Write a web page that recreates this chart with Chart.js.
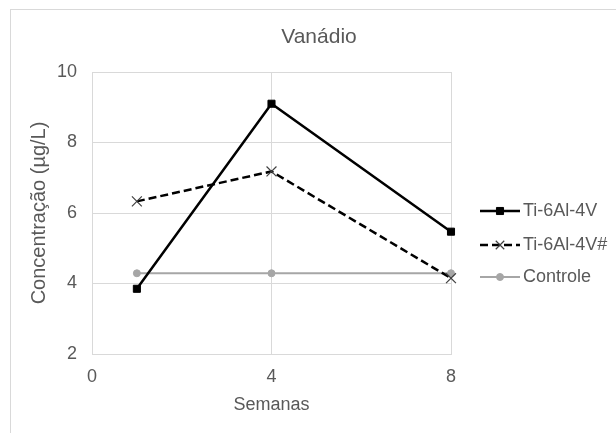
<!DOCTYPE html>
<html>
<head>
<meta charset="utf-8">
<title>Vanádio</title>
<script src="https://cdn.jsdelivr.net/npm/chart.js@4.4.1/dist/chart.umd.min.js"></script>
<style>
    html, body { margin: 0; padding: 0; background: #fff; }
    .chart-wrap { position: relative; width: 616px; height: 433px; overflow: hidden; }
    .chart-frame {
        position: absolute; left: 10px; top: 9px; right: -5px; bottom: -5px;
        border: 1px solid #d9d9d9; pointer-events: none;
    }
    canvas { position: absolute; left: 0; top: 0; }
</style>
</head>
<body>
<div class="chart-wrap">
    <canvas id="vanadioChart" width="616" height="433"></canvas>
    <div class="chart-frame"></div>
</div>
<script>
// Sampling weeks and measured concentrations (µg/L)
const weeks = [1, 4, 8];
const seriesNames = ['Ti-6Al-4V', 'Ti-6Al-4V#', 'Controle'];
const ti64 = [3.85, 9.1, 5.47];
const ti64Hash = [6.33, 7.18, 4.15];
const controle = [4.29, 4.29, 4.29];
const xTicks = [0, 4, 8];
const yTicks = [2, 4, 6, 8, 10];

const TEXT = '#595959';
const GRID = '#d9d9d9';
const FONT = 'Liberation Sans, Arial, sans-serif';

function toPoints(values) {
    return weeks.map((w, i) => ({ x: w, y: values[i] }));
}

// Title drawn over the plot, offset like the original layout
const titlePlugin = {
    id: 'plotTitle',
    afterDraw(chart) {
        const ctx = chart.ctx;
        ctx.save();
        ctx.fillStyle = TEXT;
        ctx.font = '21px ' + FONT;
        ctx.textAlign = 'center';
        ctx.textBaseline = 'middle';
        ctx.fillText('Vanádio', 319, 37);
        ctx.restore();
    }
};

// Legend with line + marker samples on the right side
const sideLegend = {
    id: 'sideLegend',
    afterDraw(chart) {
        const ctx = chart.ctx;
        const rows = [211, 245, 277];
        chart.data.datasets.forEach((ds, i) => {
            const y = rows[i];
            ctx.save();
            ctx.strokeStyle = ds.borderColor;
            ctx.lineWidth = ds.borderWidth;
            ctx.setLineDash(ds.borderDash || []);
            ctx.beginPath();
            ctx.moveTo(480, y);
            ctx.lineTo(520, y);
            ctx.stroke();
            ctx.setLineDash([]);
            ctx.fillStyle = ds.pointBackgroundColor;
            ctx.strokeStyle = ds.pointBorderColor;
            ctx.lineWidth = ds.pointBorderWidth;
            Chart.helpers.drawPoint(ctx, {
                pointStyle: ds.pointStyle,
                radius: ds.legendRadius,
                rotation: 0,
                borderWidth: ds.pointBorderWidth
            }, 500, y);
            ctx.fillStyle = TEXT;
            ctx.font = '18px ' + FONT;
            ctx.textAlign = 'left';
            ctx.textBaseline = 'middle';
            ctx.fillText(ds.label, 523, y);
            ctx.restore();
        });
    }
};

const ctx = document.getElementById('vanadioChart').getContext('2d');
new Chart(ctx, {
    type: 'line',
    data: {
        datasets: [{
            label: seriesNames[0],
            data: toPoints(ti64),
            borderColor: '#000000',
            borderWidth: 2.5,
            pointStyle: 'rect',
            pointRadius: 5,
            legendRadius: 5,
            pointBackgroundColor: '#000000',
            pointBorderColor: '#000000',
            pointBorderWidth: 1,
            clip: false
        }, {
            label: seriesNames[1],
            data: toPoints(ti64Hash),
            borderColor: '#000000',
            borderWidth: 2.5,
            borderDash: [8, 4],
            pointStyle: 'crossRot',
            pointRadius: 7,
            legendRadius: 6,
            pointBackgroundColor: '#404040',
            pointBorderColor: '#404040',
            pointBorderWidth: 1.2,
            clip: false
        }, {
            label: seriesNames[2],
            data: toPoints(controle),
            borderColor: '#a6a6a6',
            borderWidth: 2,
            pointStyle: 'circle',
            pointRadius: 3.5,
            legendRadius: 3.5,
            pointBackgroundColor: '#a6a6a6',
            pointBorderColor: '#a6a6a6',
            pointBorderWidth: 1,
            clip: false
        }]
    },
    options: {
        responsive: false,
        animation: false,
        layout: {
            padding: { top: 72, right: 165, bottom: 13, left: 0 }
        },
        plugins: {
            legend: { display: false },
            title: { display: false },
            tooltip: { enabled: false }
        },
        scales: {
            x: {
                type: 'linear',
                min: xTicks[0],
                max: xTicks[xTicks.length - 1],
                afterBuildTicks: scale => { scale.ticks = xTicks.map(v => ({ value: v })); },
                afterFit: scale => { scale.height = 433 - 13 - 354; },
                grid: { color: GRID, drawTicks: false },
                border: { color: GRID },
                ticks: { color: TEXT, font: { family: FONT, size: 18 }, padding: 12 },
                title: {
                    display: true,
                    text: 'Semanas',
                    color: TEXT,
                    font: { family: FONT, size: 18 },
                    padding: { top: 0, bottom: 4 }
                }
            },
            y: {
                min: yTicks[0],
                max: yTicks[yTicks.length - 1],
                afterBuildTicks: scale => { scale.ticks = yTicks.map(v => ({ value: v })); },
                afterFit: scale => { scale.width = 92; },
                grid: { color: GRID, drawTicks: false },
                border: { color: GRID },
                ticks: { color: TEXT, font: { family: FONT, size: 18 }, padding: 15 },
                title: {
                    display: true,
                    text: 'Concentração (µg/L)',
                    color: TEXT,
                    font: { family: FONT, size: 20 },
                    padding: { top: 27, bottom: 0 }
                }
            }
        }
    },
    plugins: [titlePlugin, sideLegend]
});
</script>
</body>
</html>
